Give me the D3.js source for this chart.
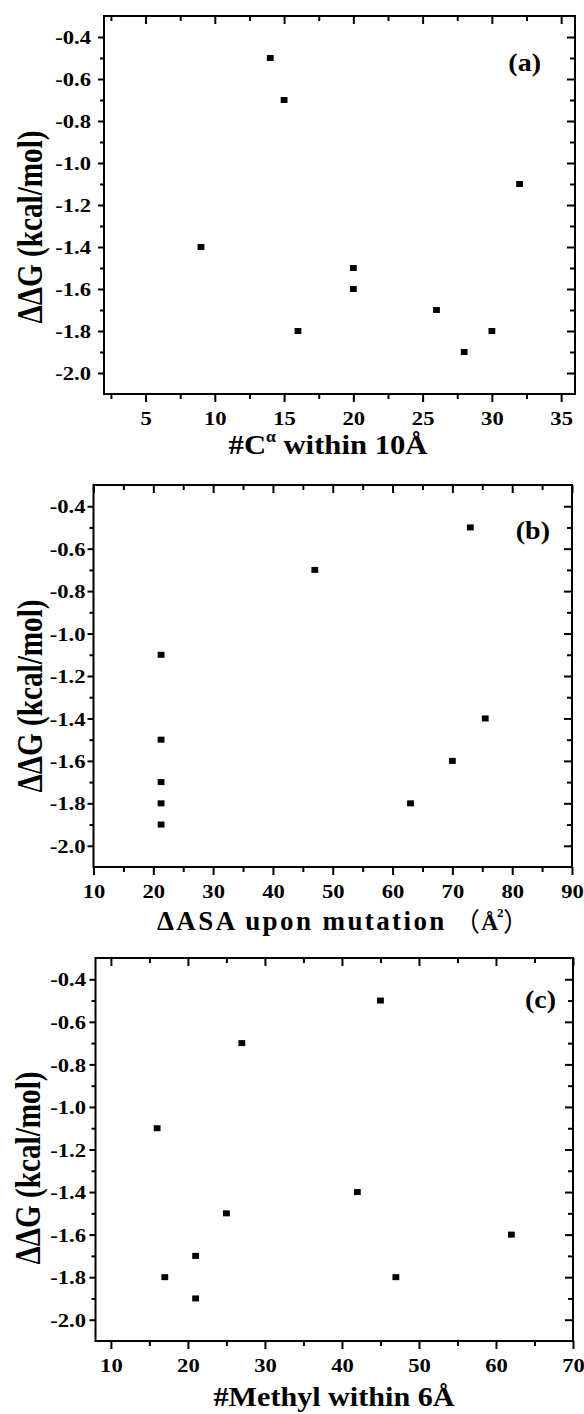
<!DOCTYPE html>
<html><head><meta charset="utf-8">
<script src="https://cdn.jsdelivr.net/npm/d3@7"></script>
<style>
body{margin:0;background:#fff}
svg{display:block;background:#fff}
text{font-family:"Liberation Serif","Times New Roman",serif;font-weight:bold;fill:#000}
</style></head><body><svg id="c" width="584" height="1414"></svg>
<script>
// ---- data ----
const ddgValues      = [-0.5, -0.7, -1.1, -1.4, -1.5, -1.6, -1.7, -1.8, -1.8, -1.9];
const cAlphaWithin10 = [14, 15, 32, 9, 20, 20, 26, 16, 30, 28];
const deltaASA       = [73, 47, 21.3, 75.5, 21.3, 70, 21.3, 21.3, 63, 21.3];
const methylWithin6  = [45, 27, 16, 42, 25, 62, 21, 17, 47, 21];

const yDomain      = [-2.1, -0.3];
const yTickValues  = [-2.0, -1.8, -1.6, -1.4, -1.2, -1.0, -0.8, -0.6, -0.4];
const yMinorValues = [-1.9, -1.7, -1.5, -1.3, -1.1, -0.9, -0.7, -0.5];

const xTicksA = [5, 10, 15, 20, 25, 30, 35];
const xMinorA = [2.5, 7.5, 12.5, 17.5, 22.5, 27.5, 32.5];
const xTicksB = [10, 20, 30, 40, 50, 60, 70, 80, 90];
const xMinorB = [15, 25, 35, 45, 55, 65, 75, 85];
const xTicksC = [10, 20, 30, 40, 50, 60, 70];
const xMinorC = [15, 25, 35, 45, 55, 65];

const yTitle = "ΔΔG (kcal/mol)";
const panelLabels = ["(a)", "(b)", "(c)"];

// ---- layout ----
const svg = d3.select("#c");
const SX = 1.16; // horizontal stretch of glyphs in the reference

const ctx = document.createElement("canvas").getContext("2d");
function ink(str, font) { ctx.font = font; const m = ctx.measureText(str);
  return {left: -m.actualBoundingBoxLeft, right: m.actualBoundingBoxRight}; }

const panels = [
  {xs: cAlphaWithin10, xDomain: [2, 36], xTicks: xTicksA, xMinor: xMinorA,
   left: 104, right: 575, top: 16, bottom: 394, ylabGap: 13,
   label: panelLabels[0], labelX: 541, labelY: 71,
   yTitleX: 42, yTitleCY: 227,
   xTitle: [{t: "#C"}, {t: "α", sup: true}, {t: " within 10Å"}], xTitleCX: 328, xTitleY: 454, xTitleW: 199},
  {xs: deltaASA, xDomain: [10, 90], xTicks: xTicksB, xMinor: xMinorB,
   left: 93.5, right: 572, top: 485, bottom: 867, ylabGap: 8,
   label: panelLabels[1], labelX: 550, labelY: 539,
   yTitleX: 42, yTitleCY: 696,
   xTitle: null, xTitleY: 930},
  {xs: methylWithin6, xDomain: [8, 70], xTicks: xTicksC, xMinor: xMinorC,
   left: 95.5, right: 573, top: 958, bottom: 1341, ylabGap: 9.5,
   label: panelLabels[2], labelX: 556, labelY: 1008,
   yTitleX: 40, yTitleCY: 1168,
   xTitle: [{t: "#Methyl within 6Å"}], xTitleCX: 334, xTitleY: 1406, xTitleW: 241}
];

function styleAxis(g) {
  g.select(".domain").remove();
  g.selectAll(".tick line").attr("stroke", "#000").attr("stroke-width", 2);
}

panels.forEach(p => {
  const g = svg.append("g");
  const x = d3.scaleLinear().domain(p.xDomain).range([p.left, p.right]);
  const y = d3.scaleLinear().domain(yDomain).range([p.bottom, p.top]);

  // bottom axis (outward ticks) with labels
  const bx = g.append("g").attr("transform", `translate(0,${p.bottom})`)
    .call(d3.axisBottom(x).tickValues(p.xTicks).tickSize(8).tickSizeOuter(0).tickFormat(d => String(d)));
  styleAxis(bx);
  bx.selectAll(".tick text").attr("y", 31).attr("dy", 0)
    .attr("font-size", 19.5).attr("transform", `scale(${SX},1)`);
  const bm = g.append("g").attr("transform", `translate(0,${p.bottom})`)
    .call(d3.axisBottom(x).tickValues(p.xMinor).tickSize(5).tickSizeOuter(0).tickFormat(""));
  styleAxis(bm);

  // top axis (inward ticks)
  const tx = g.append("g").attr("transform", `translate(0,${p.top})`)
    .call(d3.axisTop(x).tickValues(p.xTicks).tickSize(-8).tickSizeOuter(0).tickFormat(""));
  styleAxis(tx);
  const tm = g.append("g").attr("transform", `translate(0,${p.top})`)
    .call(d3.axisTop(x).tickValues(p.xMinor).tickSize(-5).tickSizeOuter(0).tickFormat(""));
  styleAxis(tm);

  // left axis (outward ticks) with labels
  const ly = g.append("g").attr("transform", `translate(${p.left},0)`)
    .call(d3.axisLeft(y).tickValues(yTickValues).tickSize(6).tickSizeOuter(0).tickFormat(d => d.toFixed(1)));
  styleAxis(ly);
  ly.selectAll(".tick text").attr("x", -p.ylabGap / SX).attr("dy", "0.34em")
    .attr("font-size", 19.5).attr("transform", `scale(${SX},1)`);
  const lm = g.append("g").attr("transform", `translate(${p.left},0)`)
    .call(d3.axisLeft(y).tickValues(yMinorValues).tickSize(4).tickSizeOuter(0).tickFormat(""));
  styleAxis(lm);

  // right axis (inward ticks)
  const ry = g.append("g").attr("transform", `translate(${p.right},0)`)
    .call(d3.axisRight(y).tickValues(yTickValues).tickSize(-8).tickSizeOuter(0).tickFormat(""));
  styleAxis(ry);
  const rm = g.append("g").attr("transform", `translate(${p.right},0)`)
    .call(d3.axisRight(y).tickValues(yMinorValues).tickSize(-5).tickSizeOuter(0).tickFormat(""));
  styleAxis(rm);

  // frame
  g.append("rect").attr("x", p.left).attr("y", p.top)
    .attr("width", p.right - p.left).attr("height", p.bottom - p.top)
    .attr("fill", "none").attr("stroke", "#000").attr("stroke-width", 2);

  // points
  const pts = p.xs.map((v, i) => ({x: v, y: ddgValues[i]}));
  g.selectAll("rect.pt").data(pts).enter().append("rect").attr("class", "pt")
    .attr("x", d => x(d.x) - 3.4).attr("y", d => y(d.y) - 3)
    .attr("width", 6.8).attr("height", 6).attr("fill", "#000");

  // panel label
  g.append("text").text(p.label).attr("font-size", 25).attr("text-anchor", "end")
    .attr("transform", `translate(${p.labelX},${p.labelY}) scale(1.12,1)`);

  // x title
  if (p.xTitle) {
    const xt = g.append("text").attr("font-size", 28).attr("text-anchor", "middle");
    p.xTitle.forEach((part, i) => {
      const ts = xt.append("tspan").text(part.t);
      if (part.sup) ts.attr("font-size", 16).attr("dy", -12);
      else if (i > 0) ts.attr("dy", 12);
    });
    const nat = xt.node().getComputedTextLength();
    xt.attr("transform", `translate(${p.xTitleCX},${p.xTitleY}) scale(${p.xTitleW / nat},1)`);
  } else {
    // ΔASA upon mutation（Å²） as one text element, pieces placed by x
    const parFont = "26px 'Noto Sans CJK SC'";
    const lp = ink("（", parFont), rp = ink("）", parFont);
    const xt = g.append("text").attr("y", p.xTitleY);
    xt.append("tspan").text("ΔASA upon mutation").attr("x", 157)
      .attr("font-size", 27).style("letter-spacing", "2.4px");
    const lpx = Math.max(472 - lp.left, 157 + 0); // paren ink starts near 472
    xt.append("tspan").text("（").attr("x", lpx).attr("dy", 1)
      .attr("font-size", 26).style("font-family", "'Noto Sans CJK SC'").style("font-weight", "normal");
    xt.append("tspan").text("Å").attr("x", 481).attr("dy", -1).attr("font-size", 24);
    xt.append("tspan").text("2").attr("x", 497).attr("dy", -13).attr("font-size", 13);
    xt.append("tspan").text("）").attr("x", 504 - rp.left).attr("dy", 14)
      .attr("font-size", 26).style("font-family", "'Noto Sans CJK SC'").style("font-weight", "normal");
  }

  // y title
  const yt = g.append("text").text(yTitle).attr("font-size", 29).attr("text-anchor", "middle");
  const natY = yt.node().getComputedTextLength();
  yt.attr("transform", `translate(${p.yTitleX},${p.yTitleCY}) rotate(-90) scale(${193 / natY},1.2)`);
});
</script></body></html>
